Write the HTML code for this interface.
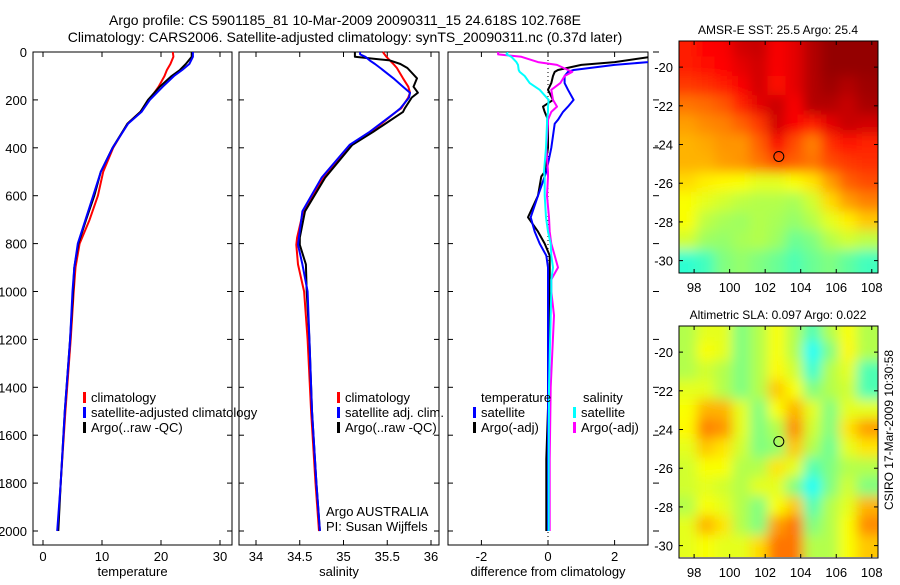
<!DOCTYPE html>
<html><head><meta charset="utf-8"><style>
body{margin:0;background:#fff;}
svg text{font-family:"Liberation Sans",sans-serif;fill:#000;}
</style></head><body>
<svg id="fig" width="900" height="580" viewBox="0 0 900 580" xmlns="http://www.w3.org/2000/svg">
<defs>
<filter id="bl" x="-10%" y="-10%" width="120%" height="120%"><feGaussianBlur stdDeviation="6"/></filter>
<clipPath id="c1"><rect x="679" y="41" width="199" height="232"/></clipPath>
<clipPath id="c2"><rect x="679" y="326" width="199" height="231"/></clipPath>
<clipPath id="c3"><rect x="448" y="52" width="200" height="493"/></clipPath>
</defs>
<text x="345" y="25" font-size="14" text-anchor="middle">Argo profile: CS 5901185_81 10-Mar-2009 20090311_15 24.618S 102.768E</text>
<text x="345" y="42" font-size="14" text-anchor="middle">Climatology: CARS2006. Satellite-adjusted climatology: synTS_20090311.nc (0.37d later)</text>
<g id="g"></g>
</svg>
<script>
// ---- depths (m) ----
const depthT = [0,20,50,75,100,145,200,250,300,400,500,600,700,800,900,1000,1200,1500,1800,2000];
const tempArgo = [25.2,25.2,24.2,23.2,21.8,19.8,17.8,16.5,14.3,11.8,9.8,8.7,7.3,6.0,5.3,5.1,4.6,3.7,3.0,2.6];
const tempSat  = [25.4,25.4,24.8,23.6,22.2,20.3,18.1,16.7,14.4,11.8,9.8,8.5,7.2,5.9,5.3,5.0,4.6,3.7,3.0,2.4];
const tempClim = [22.0,22.1,21.6,21.0,20.6,19.6,18.0,16.5,14.3,11.9,10.2,9.3,7.9,6.2,5.5,5.2,4.7,3.8,3.0,2.5];
const depthS = [0,10,20,35,50,67,110,145,170,190,235,250,333,388,525,665,775,805,887,1000,1200,1500,1800,2000];
const salArgo = [35.13,35.13,35.13,35.53,35.65,35.73,35.84,35.80,35.85,35.78,35.70,35.68,35.34,35.10,34.79,34.56,34.50,34.50,34.57,34.58,34.61,34.64,34.69,34.73];
const salSat  = [35.19,35.19,35.25,35.30,35.36,35.42,35.57,35.68,35.76,35.75,35.65,35.60,35.30,35.07,34.75,34.53,34.49,34.48,34.53,34.59,34.61,34.64,34.69,34.73];
const salClim = [35.45,35.47,35.49,35.53,35.57,35.61,35.68,35.74,35.76,35.74,35.66,35.60,35.32,35.09,34.77,34.54,34.47,34.46,34.48,34.55,34.59,34.63,34.68,34.72];
const depthD = [0,10,20,42,54,75,83,100,130,158,200,228,250,283,300,400,500,520,600,690,750,800,850,900,950,1000,1100,1400,1700,2000];
const dTempSat  = [3.2,3.2,3.2,3.0,2.0,0.77,0.6,0.5,0.5,0.6,0.77,0.6,0.45,0.3,0.2,0.1,-0.05,-0.1,-0.3,-0.52,-0.4,-0.25,-0.05,0.0,0.0,0.0,0.0,0.0,0.0,0.0];
const dTempArgo = [3.2,3.2,3.1,2.0,1.0,0.3,0.2,0.15,0.1,0.0,0.15,-0.15,-0.1,0.0,0.0,0.0,-0.1,-0.2,-0.3,-0.6,-0.3,-0.1,0.05,0.05,0.05,0.05,0.05,0.02,-0.05,-0.05];
const dSalArgo  = [-1.5,-1.5,-0.8,-0.3,0.27,0.6,0.73,0.5,0.37,0.1,0.15,0.27,0.1,0.0,0.0,-0.05,0.0,0.0,-0.03,0.03,0.05,0.1,0.2,0.3,0.1,0.1,0.18,0.08,0.05,0.05];
const dSalSat   = [-1.2,-1.25,-1.1,-0.95,-0.9,-0.88,-0.85,-0.7,-0.55,-0.25,0.02,0.0,0.0,-0.03,-0.03,-0.06,-0.12,-0.1,-0.1,-0.06,0.0,0.08,0.1,0.15,0.1,0.1,0.08,0.03,0.02,0.02];
const depthTicks = [0,200,400,600,800,1000,1200,1400,1600,1800,2000];
const tempTicks = [0,10,20,30];
const salTicks = [34,34.5,35,35.5,36];
const diffTicks = [-2,0,2];
// ---- satellite maps (jet colormap index 0..1), rows lat -19..-30, cols lon 97.7..107.9 ----
const mapLats = [-19,-20,-21,-22,-23,-24,-25,-26,-27,-28,-29,-30];
const mapLons = [97.7,98.7,99.7,100.7,101.7,102.7,103.7,104.7,105.7,106.7,107.7];
const sstGrid = [
[0.85,0.87,0.88,0.92,0.93,0.88,0.90,0.95,0.98,0.98,0.98],
[0.85,0.86,0.87,0.90,0.92,0.88,0.90,0.95,0.98,0.98,0.98],
[0.82,0.83,0.85,0.88,0.92,0.86,0.90,0.95,0.97,0.95,0.97],
[0.76,0.77,0.79,0.84,0.90,0.93,0.88,0.95,0.95,0.93,0.96],
[0.72,0.74,0.75,0.78,0.82,0.92,0.88,0.85,0.90,0.93,0.92],
[0.70,0.71,0.73,0.73,0.78,0.88,0.80,0.75,0.83,0.86,0.84],
[0.70,0.70,0.72,0.73,0.76,0.80,0.78,0.76,0.80,0.82,0.83],
[0.66,0.64,0.63,0.62,0.60,0.60,0.62,0.65,0.72,0.78,0.80],
[0.62,0.60,0.58,0.56,0.55,0.55,0.54,0.58,0.66,0.72,0.75],
[0.62,0.56,0.54,0.53,0.55,0.54,0.52,0.55,0.60,0.64,0.68],
[0.58,0.53,0.52,0.54,0.55,0.53,0.48,0.50,0.55,0.58,0.56],
[0.42,0.44,0.50,0.52,0.50,0.48,0.45,0.48,0.50,0.47,0.44]];
const slaGrid = [
[.55,.60,.60,.50,.55,.62,.55,.45,.55,.62,.55],
[.55,.62,.60,.50,.55,.62,.55,.38,.50,.63,.55],
[.55,.58,.55,.50,.55,.63,.58,.42,.55,.60,.45],
[.60,.60,.55,.50,.55,.68,.62,.50,.55,.58,.45],
[.62,.70,.70,.60,.50,.62,.70,.60,.50,.60,.60],
[.63,.75,.73,.60,.50,.55,.74,.58,.50,.65,.72],
[.60,.68,.65,.58,.50,.52,.68,.55,.48,.60,.65],
[.58,.62,.62,.55,.55,.65,.60,.45,.50,.55,.55],
[.58,.60,.58,.55,.60,.60,.50,.38,.50,.58,.50],
[.55,.62,.60,.55,.50,.62,.68,.45,.55,.60,.70],
[.60,.70,.65,.55,.50,.72,.76,.50,.55,.62,.74],
[.60,.62,.60,.60,.66,.76,.76,.55,.55,.62,.68]];
const floatLon = 102.768, floatLat = -24.618;

const NS='http://www.w3.org/2000/svg';
const G=document.getElementById('g');
function mk(tag,attrs,parent){const e=document.createElementNS(NS,tag);for(const k in attrs)e.setAttribute(k,attrs[k]);(parent||G).appendChild(e);return e;}
const yD = d => 52 + 0.2395*d;

function panel(name,x0,x1,xf,ticks,fmt,title,showY,rightOut){
  const grp=mk('g',{});
  
  
  const fr=mk('rect',{x:x0,y:52,width:x1-x0,height:493,fill:'none',stroke:'#000','stroke-width':1},grp);
  
  
  depthTicks.forEach(d=>{
    const y=yD(d);
    mk('line',{x1:x0,x2:x0+5,y1:y,y2:y,stroke:'#000'},grp);
    if(rightOut) mk('line',{x1:x1+5,x2:x1+11,y1:y,y2:y,stroke:'#000'},grp);
    else mk('line',{x1:x1-5,x2:x1,y1:y,y2:y,stroke:'#000'},grp);
    if(showY){const t=mk('text',{x:27,y:y+5,'font-size':13,'text-anchor':'end'},grp);t.textContent=d;
      
      }
  });
  ticks.forEach(v=>{
    const x=xf(v);
    mk('line',{x1:x,x2:x,y1:545,y2:540,stroke:'#000'},grp);
    mk('line',{x1:x,x2:x,y1:52,y2:57,stroke:'#000'},grp);
    const t=mk('text',{x:x,y:561,'font-size':13,'text-anchor':'middle'},grp);t.textContent=fmt(v);
    
    
  });
  const tt=mk('text',{x:(x0+x1)/2,y:576,'font-size':13,'text-anchor':'middle'},grp);tt.textContent=title;
  
  
}
function line(depths,vals,xf,color,w,name,clip){
  const pts=depths.map((d,i)=>xf(vals[i]).toFixed(1)+','+yD(d).toFixed(1)).join(' ');
  const p=mk('polyline',{points:pts,fill:'none',stroke:color,'stroke-width':w,'stroke-linejoin':'round'});
  if(clip)p.setAttribute('clip-path','url(#'+clip+')');
  
  
}
function legend(x,y,color,label,name){
  if(color){mk('rect',{x:x,y:y-10,width:3,height:11,fill:color});}
  const t=mk('text',{x:x+8,y:y,'font-size':13},G);t.textContent=label;
  
  
}
// panel 1
const xT=v=>43+5.9*v;
panel('temperature-panel',33,232,xT,tempTicks,v=>String(v),'temperature',true,false);
line(depthT,tempClim,xT,'#f00',2,'temp-climatology-line');
line(depthT,tempArgo,xT,'#000',2,'temp-argo-line');
line(depthT,tempSat,xT,'#00f',2,'temp-satellite-line');
legend(83,402,'#f00','climatology','legend-climatology');
legend(83,417,'#00f','satellite-adjusted climatology','legend-satellite');
legend(83,432,'#000','Argo(..raw -QC)','legend-argo');
// panel 2
const xS=v=>256+87.5*(v-34);
panel('salinity-panel',239,439,xS,salTicks,v=>String(v),'salinity',false,false);
line(depthS,salClim,xS,'#f00',2,'sal-climatology-line');
line(depthS,salArgo,xS,'#000',2,'sal-argo-line');
line(depthS,salSat,xS,'#00f',2,'sal-satellite-line');
legend(337,402,'#f00','climatology','legend-sal-climatology');
legend(337,417,'#00f','satellite adj. clim.','legend-sal-satellite');
legend(337,432,'#000','Argo(..raw -QC)','legend-sal-argo');
{const a=mk('text',{x:326,y:516,'font-size':13});a.textContent='Argo AUSTRALIA';


const b=mk('text',{x:326,y:531,'font-size':13});b.textContent='PI: Susan Wijffels';

}
// panel 3
const xDf=v=>548+33.3*v;
panel('difference-panel',448,648,xDf,diffTicks,v=>String(v),'difference from climatology',false,true);
mk('line',{x1:548,x2:548,y1:52,y2:545,stroke:'#000','stroke-dasharray':'1,3'});
line(depthD,dTempArgo,xDf,'#000',2,'diff-temp-argo-line','c3');
line(depthD,dTempSat,xDf,'#00f',2,'diff-temp-satellite-line','c3');
line(depthD,dSalArgo,xDf,'#f0f',2,'diff-sal-argo-line','c3');
line(depthD,dSalSat,xDf,'#0ff',2,'diff-sal-satellite-line','c3');
legend(473,402,null,'temperature','legend-temperature-header');
legend(473,417,'#00f','satellite','legend-temp-satellite');
legend(473,432,'#000','Argo(-adj)','legend-temp-argo');
legend(575,402,null,'salinity','legend-salinity-header');
legend(573,417,'#0ff','satellite','legend-sal-sat');
legend(573,432,'#f0f','Argo(-adj)','legend-sal-argo-adj');

// maps
function jet(v){const c=t=>Math.round(255*Math.max(0,Math.min(1,t)));
  return 'rgb('+c(1.5-Math.abs(4*v-3))+','+c(1.5-Math.abs(4*v-2))+','+c(1.5-Math.abs(4*v-1))+')';}
function drawMap(name,top,grid,clip,title){
  const x0=679,x1=878,lonA=97.15,lonB=108.35;
  const latT=-18.65, pxLat=19.35;
  const mx=lon=>x0+(lon-lonA)*(x1-x0)/(lonB-lonA);
  const my=lat=>top+(latT-lat)*pxLat;
  const grp=mk('g',{'clip-path':'url(#'+clip+')'});
  
  
  const inner=mk('g',{filter:'url(#bl)'},grp);
  grid.forEach((row,r)=>row.forEach((v,c)=>{
    const cell=mk('rect',{x:mx(mapLons[c]-0.5)-1,y:my(mapLats[r]+0.5)-1,width:mx(1)-mx(0)+2,height:pxLat+2,fill:jet(v)},inner);
    if(c===0)cell.setAttribute('x',x0-30),cell.setAttribute('width',mx(mapLons[0]+0.5)-x0+31);
    if(c===row.length-1)cell.setAttribute('width',60);
    if(r===0)cell.setAttribute('y',top-30),cell.setAttribute('height',my(mapLats[0]-0.5)-top+31);
    if(r===grid.length-1)cell.setAttribute('height',60);
    
    
  }));
  const fr=mk('rect',{x:x0,y:top,width:x1-x0,height:232,fill:'none',stroke:'#000'});
  
  
  [-20,-22,-24,-26,-28,-30].forEach(l=>{const y=my(l);
    mk('line',{x1:x0,x2:x0+4,y1:y,y2:y,stroke:'#000'});mk('line',{x1:x1-4,x2:x1,y1:y,y2:y,stroke:'#000'});
    const t=mk('text',{x:673,y:y+5,'font-size':13,'text-anchor':'end'});t.textContent=l;
    
    });
  [98,100,102,104,106,108].forEach(l=>{const x=mx(l);
    mk('line',{x1:x,x2:x,y1:top+232,y2:top+228,stroke:'#000'});mk('line',{x1:x,x2:x,y1:top,y2:top+4,stroke:'#000'});
    const t=mk('text',{x:x,y:top+251,'font-size':13,'text-anchor':'middle'});t.textContent=l;
    
    });
  const c=mk('circle',{cx:mx(floatLon),cy:my(floatLat),r:5,fill:'none',stroke:'#000'});
  
  
  const t=mk('text',{x:778,y:top-7,'font-size':12,'text-anchor':'middle'});t.textContent=title;
  
  
}
drawMap('sst-map',41,sstGrid,'c1','AMSR-E SST: 25.5  Argo: 25.4');
drawMap('sla-map',326,slaGrid,'c2','Altimetric SLA: 0.097  Argo: 0.022');
{const t=mk('text',{x:0,y:0,'font-size':12,'text-anchor':'middle',transform:'translate(893,430) rotate(-90)'});
t.textContent='CSIRO 17-Mar-2009 10:30:58';

}
</script>
</body></html>
